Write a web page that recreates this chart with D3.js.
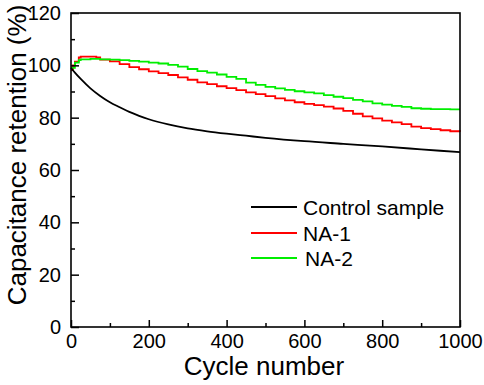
<!DOCTYPE html>
<html><head><meta charset="utf-8">
<script src="https://cdn.jsdelivr.net/npm/d3@7"></script>
<style>body{margin:0;background:#fff}svg{display:block}text{font-family:"Liberation Sans",Arial,sans-serif;fill:#000}</style>
</head><body><svg id="c" width="484" height="385"></svg>
<script>
const controlCycles = [0,10,25,50,75,100,125,150,175,200,250,300,350,400,450,500,600,700,800,900,1000];
const controlValues = [99,97.2,94.8,91.2,88.3,85.9,84,82.2,80.7,79.4,77.4,75.9,74.8,73.9,73.1,72.3,71,70,69,67.9,66.8];
const na1Cycles = [0,5,10,20,25,50,65,75,100,125,150,175,200,225,250,275,300,325,350,375,400,425,450,475,500,525,550,575,600,625,650,675,700,725,750,775,800,825,850,875,900,925,950,975,1000];
const na1Values = [98.2,100,101.4,103,103.3,103.3,103,102.2,101.5,100.5,99.3,98.5,97.7,97,96.3,95.4,94.5,93.5,92.8,92,91.3,90.5,89.7,89,88.2,87.4,86.6,85.9,85.3,84.8,84.2,83.5,82.6,81.5,80.5,79.7,78.9,78.2,77.5,76.6,76,75.6,75.2,74.8,74.6];
const na2Cycles = [0,10,20,25,50,75,100,125,150,175,200,225,250,275,300,325,350,375,400,425,450,475,500,525,550,575,600,625,650,675,700,725,750,775,800,825,850,875,900,925,950,975,1000];
const na2Values = [99,101,102,102.3,102.5,102.3,102.2,102,101.7,101.4,101,100.7,100.2,99.5,98.6,97.8,97.2,96.5,95.6,94.8,93.4,92.5,91.8,91.2,90.6,90.1,89.7,89.3,88.6,88,87.5,86.8,86.2,85.5,85,84.5,84.1,83.6,83.4,83.3,83.3,83.2,83.2];
const seriesNames = ["Control sample","NA-1","NA-2"];
const seriesColors = ["#000000","#ff0000","#00ee00"];
const xTicks = [0,200,400,600,800,1000];
const yTicks = [0,20,40,60,80,100,120];

const svg = d3.select("#c");
const L=71,R=460,T=13,B=327;
const x = d3.scaleLinear().domain([0,1000]).range([L,R]);
const y = d3.scaleLinear().domain([0,120]).range([B,T]);

const series = [
  {cyc:controlCycles, val:controlValues, curve:d3.curveMonotoneX, w:1.8},
  {cyc:na1Cycles, val:na1Values, curve:d3.curveStepAfter, w:1.8},
  {cyc:na2Cycles, val:na2Values, curve:d3.curveStepAfter, w:1.8}
];
[1,2,0].forEach(i=>{
  const s=series[i];
  const pts=s.cyc.map((c,j)=>[c,s.val[j]]);
  svg.append("path").datum(pts)
    .attr("fill","none").attr("stroke",seriesColors[i]).attr("stroke-width",s.w)
    .attr("d",d3.line().x(d=>x(d[0])).y(d=>y(d[1])).curve(s.curve));
});

const xMinor = d3.range(100,1000,200);
const yMinor = d3.range(10,120,20);
const xAxis = svg.append("g").attr("transform",`translate(0,${B})`)
  .call(d3.axisBottom(x).tickValues(xTicks).tickSize(-7).tickPadding(7).tickFormat(d3.format("d")));
const xAxisMinor = svg.append("g").attr("transform",`translate(0,${B})`)
  .call(d3.axisBottom(x).tickValues(xMinor).tickSize(-4).tickFormat(""));
const yAxis = svg.append("g").attr("transform",`translate(${L},0)`)
  .call(d3.axisLeft(y).tickValues(yTicks).tickSize(-8).tickPadding(10).tickFormat(d3.format("d")));
const yAxisMinor = svg.append("g").attr("transform",`translate(${L},0)`)
  .call(d3.axisLeft(y).tickValues(yMinor).tickSize(-4).tickFormat(""));
[xAxis,xAxisMinor,yAxis,yAxisMinor].forEach(g=>{
  g.select(".domain").remove();
  g.selectAll("line").attr("stroke","#000").attr("stroke-width",1.5);
  g.selectAll("text").attr("font-size",20).attr("font-family","Liberation Sans, Arial, sans-serif").attr("fill","#000");
});

svg.append("rect").attr("x",L).attr("y",T).attr("width",R-L).attr("height",B-T)
  .attr("fill","none").attr("stroke","#000").attr("stroke-width",1.6);

svg.append("text").attr("x",264).attr("y",375).attr("text-anchor","middle")
  .attr("font-size",26).text("Cycle number");
svg.append("text").attr("transform","translate(26,155) rotate(-90)").attr("text-anchor","middle")
  .attr("font-size",26).text("Capacitance retention (%)");

const legY=[207,233,258];
const legTX=[303,303,305];
seriesNames.forEach((n,i)=>{
  svg.append("line").attr("x1",251).attr("x2",297).attr("y1",legY[i]).attr("y2",legY[i])
    .attr("stroke",seriesColors[i]).attr("stroke-width",1.8);
  svg.append("text").attr("x",legTX[i]).attr("y",legY[i]+8).attr("font-size",21).text(n);
});
</script></body></html>
